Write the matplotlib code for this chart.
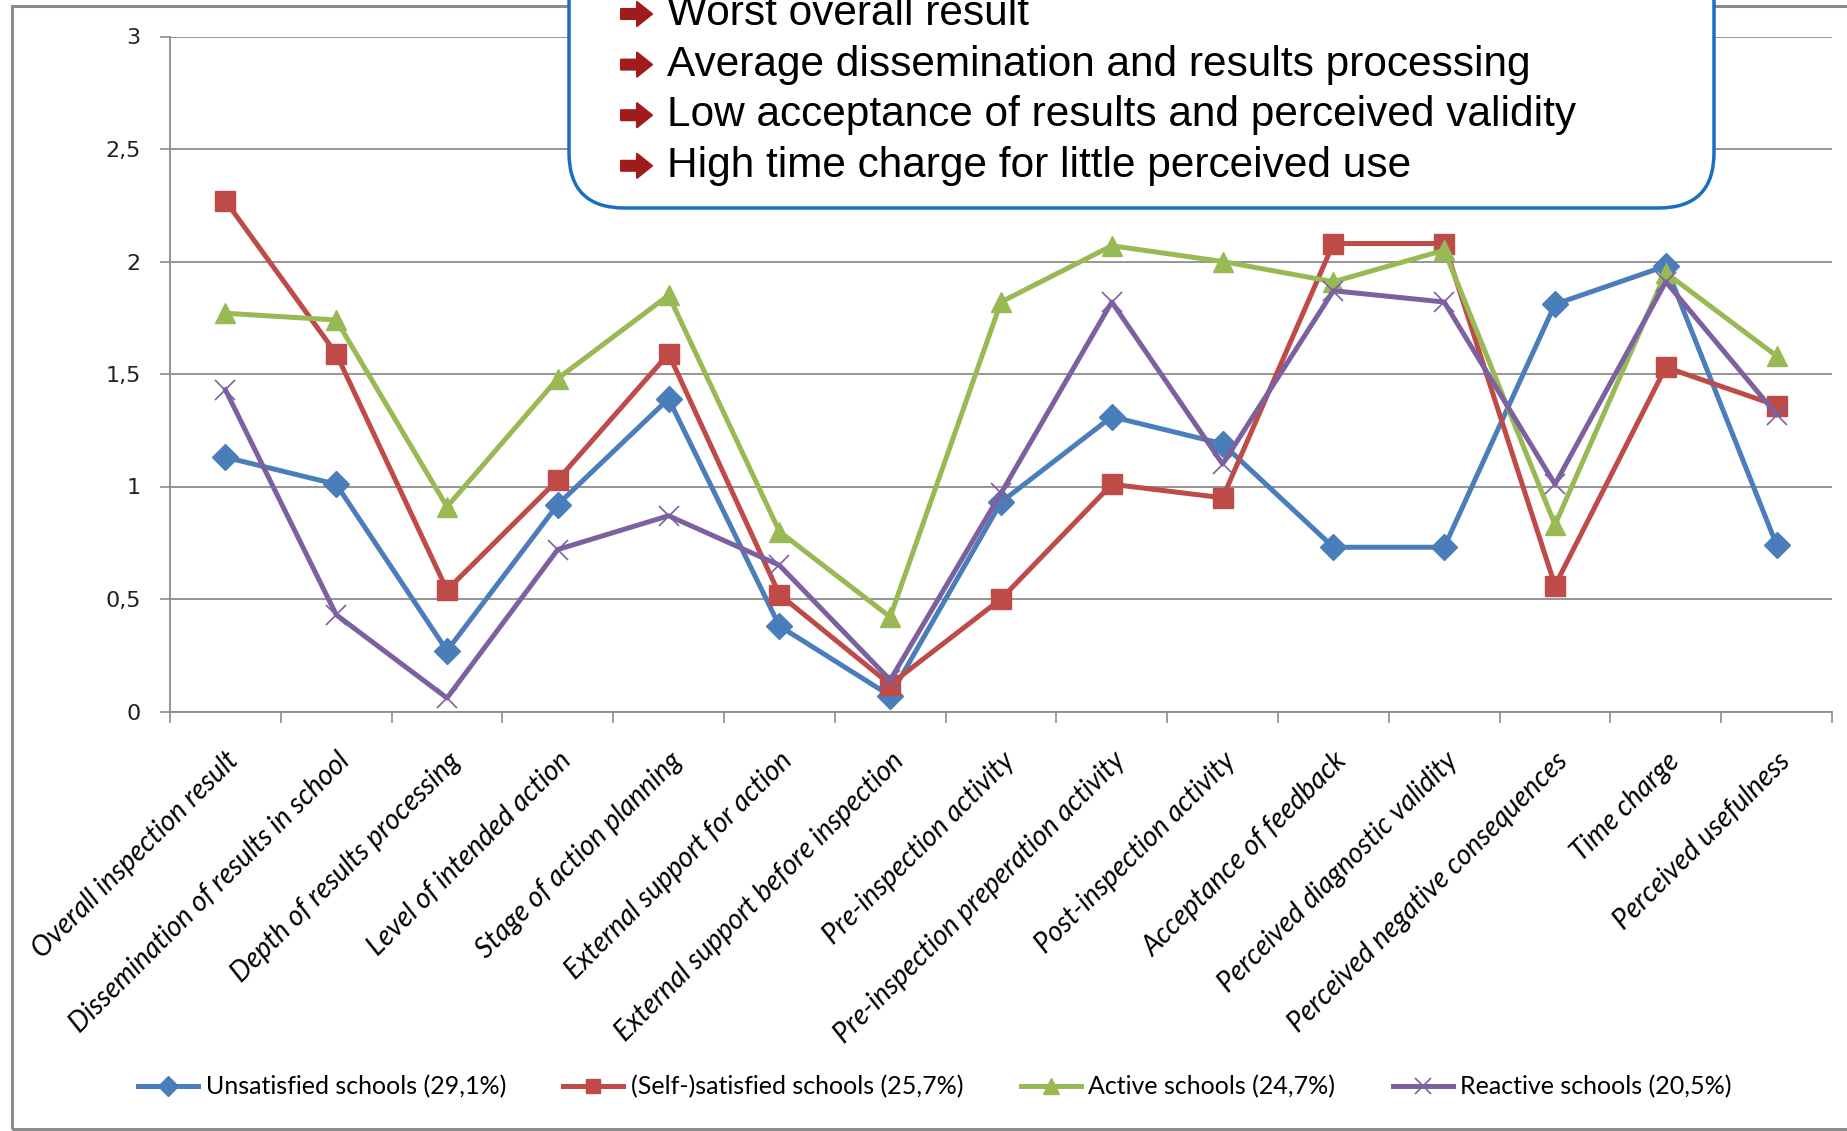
import matplotlib
matplotlib.use("Agg")
import matplotlib.pyplot as plt
from matplotlib.patches import FancyBboxPatch, Rectangle, Polygon
import numpy as np

categories = [
    "Overall inspection result",
    "Dissemination of results in school",
    "Depth of results processing",
    "Level of intended action",
    "Stage of action planning",
    "External support for action",
    "External support before inspection",
    "Pre-inspection activity",
    "Pre-inspection preperation activity",
    "Post-inspection activity",
    "Acceptance of feedback",
    "Perceived diagnostic validity",
    "Perceived negative consequences",
    "Time charge",
    "Perceived usefulness",
]

unsatisfied = [1.13, 1.01, 0.27, 0.92, 1.39, 0.38, 0.07, 0.93, 1.31, 1.19, 0.73, 0.73, 1.81, 1.98, 0.74]
self_satisfied = [2.27, 1.59, 0.54, 1.03, 1.59, 0.52, 0.12, 0.50, 1.01, 0.95, 2.08, 2.08, 0.56, 1.53, 1.36]
active = [1.77, 1.74, 0.91, 1.48, 1.85, 0.80, 0.42, 1.82, 2.07, 2.00, 1.91, 2.05, 0.83, 1.95, 1.58]
reactive = [1.43, 0.43, 0.06, 0.72, 0.87, 0.65, 0.14, 0.97, 1.82, 1.10, 1.87, 1.82, 1.01, 1.91, 1.32]

series_names = [
    "Unsatisfied schools (29,1%)",
    "(Self-)satisfied schools (25,7%)",
    "Active schools (24,7%)",
    "Reactive schools (20,5%)",
]

bullets = [
    "Worst overall result",
    "Average dissemination and results processing",
    "Low acceptance of results and perceived validity",
    "High time charge for little perceived use",
]

yticks = [0, 0.5, 1, 1.5, 2, 2.5, 3]
ytick_labels = ["0", "0,5", "1", "1,5", "2", "2,5", "3"]

W, H = 1847, 1131
fig = plt.figure(figsize=(W / 100, H / 100), dpi=100)

# outer chart frame
fig.patches.append(Rectangle((12 / W, 2 / H), (W - 10) / W, (H - 8) / H,
                             transform=fig.transFigure, fill=False,
                             edgecolor="#8c8c8c", linewidth=2.2, zorder=0))

ax = fig.add_axes([170 / W, 419.5 / H, 1662 / W, 675 / H])
x = np.arange(len(categories))

ax.plot(x, unsatisfied, color="#4A7EBB", lw=3.6, marker="D", ms=13, zorder=3)
ax.plot(x, self_satisfied, color="#BE4B48", lw=3.6, marker="s", ms=14, zorder=3)
ax.plot(x, active, color="#98B954", lw=3.6, marker="^", ms=15, zorder=3)
ax.plot(x, reactive, color="#7D60A0", lw=3.6, marker="x", ms=15, mew=1.2, zorder=3)

ax.set_xlim(-0.5, len(categories) - 0.5)
ax.set_ylim(0, 3)
ax.set_yticks(yticks)
ax.set_yticklabels(ytick_labels, fontsize=16, color="#222222")
ax.yaxis.grid(True, color="#8c8c8c", lw=1.3)
ax.set_axisbelow(True)
ax.tick_params(axis="y", length=7, width=1.2, color="#8c8c8c", pad=14)

ax.set_xticks(x)
ax.set_xticklabels(categories, rotation=45, ha="right", va="top",
                   rotation_mode="anchor", fontsize=20, family="Lato",
                   style="italic")
ax.tick_params(axis="x", length=0, pad=26)
ax.set_xticks(np.arange(-0.5, len(categories)), minor=True)
ax.tick_params(axis="x", which="minor", length=8, width=1.2, color="#8c8c8c")

for side in ["top", "right"]:
    ax.spines[side].set_visible(False)
for side in ["left", "bottom"]:
    ax.spines[side].set_color("#8c8c8c")
    ax.spines[side].set_linewidth(1.3)

leg = fig.legend(ax.get_lines(), series_names, loc="center", ncol=4,
                 bbox_to_anchor=(935 / W, 1 - 1087 / H), frameon=False,
                 prop={"family": "Lato", "size": 18}, handlelength=2.4,
                 columnspacing=2.3, handletextpad=0.3, markerscale=0.75)

# summary box at the top
box = FancyBboxPatch((569 / W, 1 - 208 / H), (1714 - 569) / W, 0.3,
                     boxstyle="round,pad=0,rounding_size=0.03",
                     transform=fig.transFigure, facecolor="white",
                     edgecolor="#1a6fc0", linewidth=2.5, zorder=5,
                     mutation_aspect=W / H)
fig.patches.append(box)

# block arrow bullet, in pixels relative to its centre line
arrow_px = [(621, -5), (637, -5), (637, -12), (652, 0),
            (637, 12), (637, 5), (621, 5)]

for i, line in enumerate(bullets):
    yp = 14 + 50.6 * i
    pts = [(px / W, 1 - (yp + dy) / H) for px, dy in arrow_px]
    fig.patches.append(Polygon(pts, closed=True, transform=fig.transFigure,
                               facecolor="#A01C1C", edgecolor="#A01C1C",
                               linewidth=1.5, joinstyle="round", zorder=6))
    fig.text(667 / W, 1 - yp / H, line, color="black", fontsize=30.5,
             family="Liberation Sans", ha="left", va="center", zorder=6)

fig.savefig("out.png", dpi=100)
